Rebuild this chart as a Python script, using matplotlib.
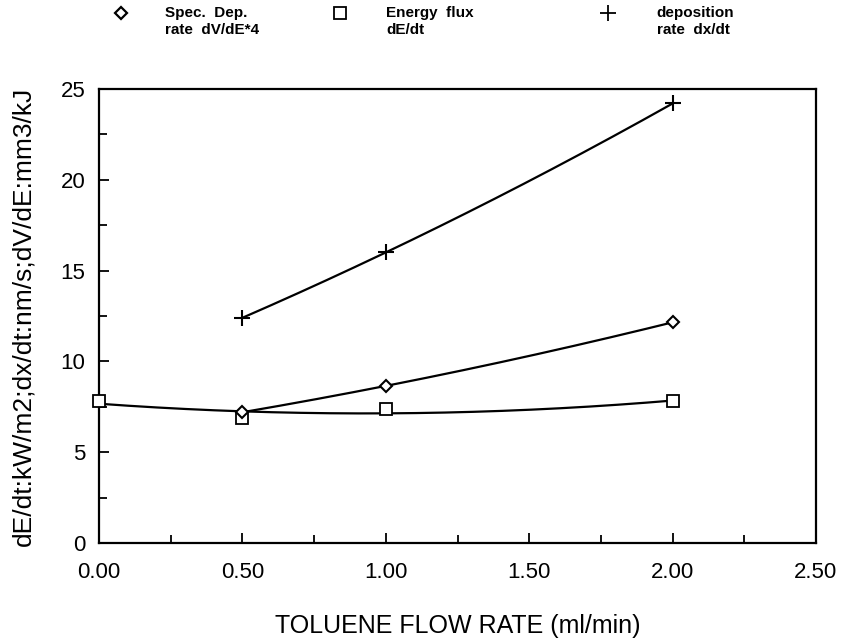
import matplotlib
matplotlib.use("Agg")

import matplotlib.pyplot as plt
from matplotlib.lines import Line2D
from matplotlib.ticker import MultipleLocator, FormatStrFormatter
import numpy as np

# =========================================================
# DATA
# =========================================================

flow_energy = [0.0, 0.5, 1.0, 2.0]
energy_flux = [7.8, 6.9, 7.4, 7.8]

flow_dep = [0.5, 1.0, 2.0]
spec_dep_rate = [7.2, 8.65, 12.15]
deposition_rate = [12.4, 16.0, 24.2]

x_ticks = [0.0, 0.5, 1.0, 1.5, 2.0, 2.5]
y_ticks = [0, 5, 10, 15, 20, 25]

legend_labels = [
    "Spec.  Dep.\nrate  dV/dE*4",
    "Energy  flux\ndE/dt",
    "deposition\nrate  dx/dt",
]

plt.rcParams['font.family'] = ['Liberation Sans', 'DejaVu Sans']

# =========================================================
# FIGURE
# =========================================================

fig = plt.figure(figsize=(8.53, 6.41), dpi=100)

ax = fig.add_axes([0.1161, 0.1529, 0.8405, 0.7083])


def smooth_fit(x, y):
    # quadratic fit through the points, like the old plotting package
    coef = np.polyfit(x, y, 2)
    xs = np.linspace(min(x), max(x), 200)
    return xs, np.polyval(coef, xs)


# curves
xs, ys = smooth_fit(flow_energy, energy_flux)
ax.plot(xs, ys, color='black', lw=1.6)

xs, ys = smooth_fit(flow_dep, spec_dep_rate)
ax.plot(xs, ys, color='black', lw=1.6)

xs, ys = smooth_fit(flow_dep, deposition_rate)
ax.plot(xs, ys, color='black', lw=1.6)

# markers
ax.plot(flow_energy, energy_flux, ls='none', marker='s', ms=8,
        mfc='white', mec='black', mew=1.3, clip_on=False, zorder=3)

ax.plot(flow_dep, spec_dep_rate, ls='none', marker='D', ms=6,
        mfc='white', mec='black', mew=1.5, clip_on=False, zorder=4)

ax.plot(flow_dep, deposition_rate, ls='none', marker='+', ms=12,
        mec='black', mew=1.5, clip_on=False, zorder=4)

# =========================================================
# AXES
# =========================================================

ax.set_xlim(0, 2.5)
ax.set_ylim(0, 25)

ax.set_xticks(x_ticks)
ax.set_yticks(y_ticks)

ax.xaxis.set_major_formatter(FormatStrFormatter('%.2f'))
ax.xaxis.set_minor_locator(MultipleLocator(0.25))
ax.yaxis.set_minor_locator(MultipleLocator(2.5))

ax.tick_params(which='both', direction='in', width=1.3,
               top=False, right=False)
ax.tick_params(which='major', length=7)
ax.tick_params(which='minor', length=6)
ax.tick_params(axis='x', which='major', pad=14, labelsize=16)
ax.tick_params(axis='y', which='major', pad=10, labelsize=16)

for side in ax.spines.values():
    side.set_linewidth(1.6)

ax.set_xlabel("TOLUENE FLOW RATE (ml/min)", fontsize=18, labelpad=22)

ax.set_ylabel("dE/dt:kW/m2;dx/dt:nm/s;dV/dE:mm3/kJ", fontsize=19,
              labelpad=18)

# =========================================================
# LEGEND ALONG THE TOP
# =========================================================

key_markers = [
    dict(marker='D', ms=6, mfc='white', mew=1.6),
    dict(marker='s', ms=8, mfc='white', mew=1.3),
    dict(marker='+', ms=12, mew=1.3),
]

key_x = [0.142, 0.399, 0.713]
text_x = [0.193, 0.453, 0.770]

for kx, tx, style, label in zip(key_x, text_x, key_markers, legend_labels):

    fig.add_artist(Line2D([kx], [0.979], ls='none', color='black',
                          mec='black', transform=fig.transFigure, **style))

    fig.text(tx, 0.991, label, fontsize=11, fontweight='bold',
             va='top', ha='left', linespacing=1.3)

fig.savefig("out.png", dpi=100)
